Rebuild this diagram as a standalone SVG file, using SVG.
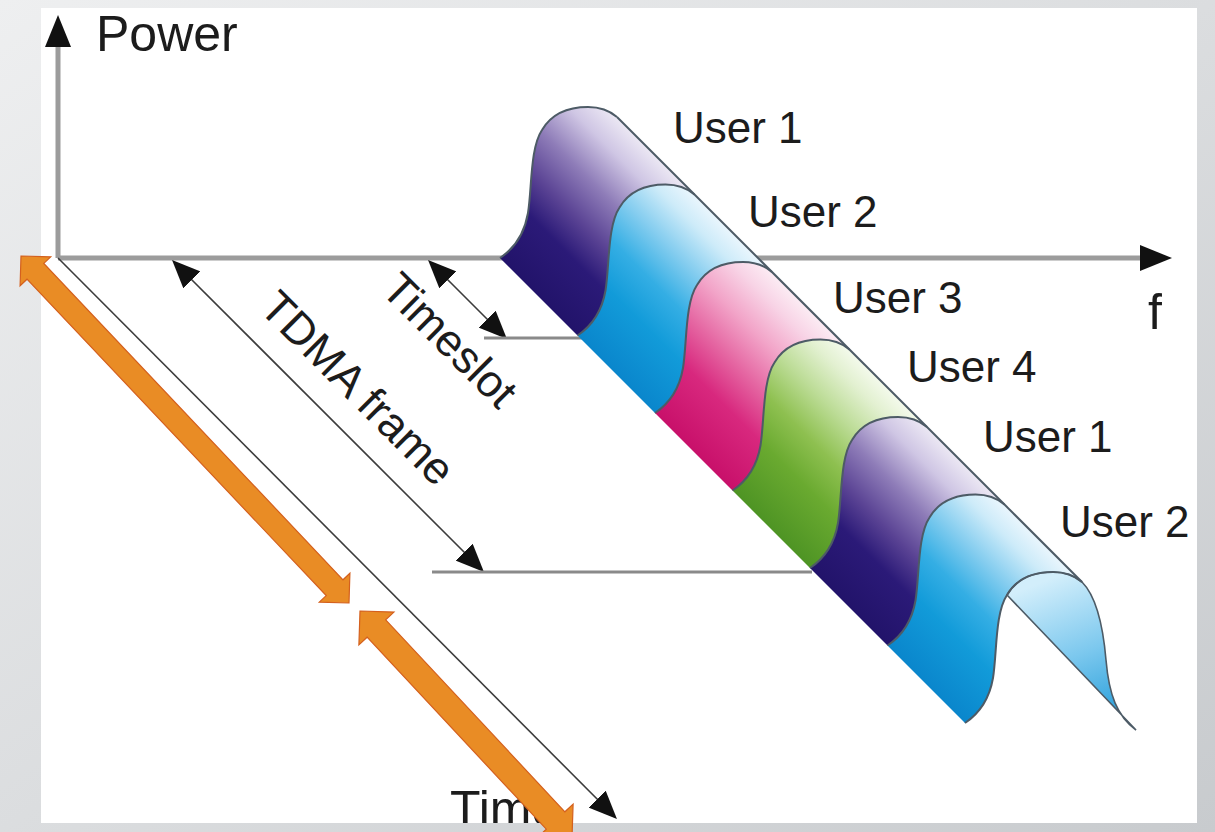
<svg xmlns="http://www.w3.org/2000/svg" width="1215" height="832" viewBox="0 0 1215 832">
<style>
  .lbl{font-family:"Liberation Sans",Arial,sans-serif;fill:#1c1c1c}
  .axis{stroke:#9c9c9c;stroke-width:5;fill:none}
  .thin{stroke:#3c3c3c;stroke-width:1.6;fill:none}
  .ref{stroke:#8a8a8a;stroke-width:3;fill:none}
  .edge{fill:none;stroke:#4d5b66;stroke-width:2}
  .orange{fill:#e98c25;stroke:#d4601e;stroke-width:1.2}
</style>
<defs>
  <linearGradient id="bg" x1="0" y1="0" x2="1" y2="1">
    <stop offset="0" stop-color="#eeeff0"/>
    <stop offset="1" stop-color="#c8cbce"/>
  </linearGradient>
  <linearGradient id="gPurple" gradientUnits="userSpaceOnUse" x1="500" y1="258" x2="629" y2="129">
    <stop offset="0" stop-color="#22136a"/>
    <stop offset="0.28" stop-color="#2b1a78"/>
    <stop offset="0.45" stop-color="#5a4394"/>
    <stop offset="0.65" stop-color="#8e7cb8"/>
    <stop offset="0.85" stop-color="#cfc6e4"/>
    <stop offset="1" stop-color="#ece8f4"/>
  </linearGradient>
  <linearGradient id="gBlue" gradientUnits="userSpaceOnUse" x1="500" y1="258" x2="629" y2="129">
    <stop offset="0" stop-color="#0a86cc"/>
    <stop offset="0.3" stop-color="#129bd9"/>
    <stop offset="0.5" stop-color="#34aee4"/>
    <stop offset="0.7" stop-color="#85cdef"/>
    <stop offset="0.88" stop-color="#cdebf9"/>
    <stop offset="1" stop-color="#eaf6fd"/>
  </linearGradient>
  <linearGradient id="gPink" gradientUnits="userSpaceOnUse" x1="500" y1="258" x2="629" y2="129">
    <stop offset="0" stop-color="#c8106a"/>
    <stop offset="0.3" stop-color="#d8287e"/>
    <stop offset="0.5" stop-color="#e566a2"/>
    <stop offset="0.7" stop-color="#f2a4c8"/>
    <stop offset="0.88" stop-color="#f8d4e6"/>
    <stop offset="1" stop-color="#fcecf4"/>
  </linearGradient>
  <linearGradient id="gGreen" gradientUnits="userSpaceOnUse" x1="500" y1="258" x2="629" y2="129">
    <stop offset="0" stop-color="#4e9424"/>
    <stop offset="0.3" stop-color="#6aaa30"/>
    <stop offset="0.5" stop-color="#8ec050"/>
    <stop offset="0.7" stop-color="#bcdc96"/>
    <stop offset="0.88" stop-color="#e2f0d0"/>
    <stop offset="1" stop-color="#f4faec"/>
  </linearGradient>
  <linearGradient id="gSliver" gradientUnits="userSpaceOnUse" x1="1060" y1="575" x2="1120" y2="725">
    <stop offset="0" stop-color="#d2eefb"/>
    <stop offset="0.5" stop-color="#7cc8ee"/>
    <stop offset="1" stop-color="#1f9ad8"/>
  </linearGradient>
  <path id="slab" d="M500,258 C512,250 524,236 528,213 C532,188 530,148 542,130 C552,113 570,107 588,107 C600,107 610,111 617,117 L694.5,194.5 C687.5,188.5 677.5,184.5 665.5,184.5 C647.5,184.5 629.5,190.5 619.5,207.5 C607.5,225.5 609.5,265.5 605.5,290.5 C601.5,313.5 589.5,327.5 577.5,335.5 Z"/>
  <path id="profile" d="M500,258 C512,250 524,236 528,213 C532,188 530,148 542,130 C552,113 570,107 588,107 C600,107 610,111 617,117"/>
  <marker id="axisHead" markerUnits="userSpaceOnUse" markerWidth="32" markerHeight="26" viewBox="0 0 32 26" refX="12" refY="13" orient="auto">
    <path d="M0,0 L32,13 L0,26 Z" fill="#111"/>
  </marker>
  <marker id="head" markerUnits="userSpaceOnUse" markerWidth="28" markerHeight="24" viewBox="0 0 28 24" refX="20" refY="12" orient="auto-start-reverse">
    <path d="M0,0 L28,12 L0,24 Z" fill="#111"/>
  </marker>
  <clipPath id="page"><rect x="41" y="8" width="1156" height="815"/></clipPath>
</defs>

<rect id="background" x="0" y="0" width="1215" height="832" fill="url(#bg)"/>
<rect id="page-area" x="41" y="8" width="1156" height="815" fill="#ffffff"/>

<g id="connectors">
  <line id="power-axis" class="axis" x1="58" y1="258" x2="58" y2="35" marker-end="url(#axisHead)"/>
  <line id="f-axis" class="axis" x1="58" y1="258" x2="1152" y2="258" marker-end="url(#axisHead)"/>
  <line id="time-axis" class="thin" x1="58" y1="258" x2="611.3" y2="813.3" marker-end="url(#head)"/>
  <line id="tdma-arrow" class="thin" x1="177.7" y1="265.7" x2="478.3" y2="566.3" marker-start="url(#head)" marker-end="url(#head)"/>
  <line id="timeslot-arrow" class="thin" x1="433.7" y1="265.7" x2="501.3" y2="333.3" marker-start="url(#head)" marker-end="url(#head)"/>
  <line id="timeslot-ref" class="ref" x1="484" y1="338" x2="582" y2="338"/>
  <line id="tdma-ref" class="ref" x1="432" y1="572" x2="812" y2="572"/>
</g>

<g id="signal">
  <g id="slot-user1a"><use href="#slab" fill="url(#gPurple)"/></g>
  <g id="slot-user2a"><use href="#slab" transform="translate(77.5,77.5)" fill="url(#gBlue)"/></g>
  <g id="slot-user3"><use href="#slab" transform="translate(155,155)" fill="url(#gPink)"/></g>
  <g id="slot-user4"><use href="#slab" transform="translate(232.5,232.5)" fill="url(#gGreen)"/></g>
  <g id="slot-user1b"><use href="#slab" transform="translate(310,310)" fill="url(#gPurple)"/></g>
  <g id="slot-user2b"><use href="#slab" transform="translate(387.5,387.5)" fill="url(#gBlue)"/></g>
  <g id="slot-end">
    <path d="M1007,595 C1017,578 1035,572 1053,572 C1065,572 1075,576 1082,582 C1096,596 1103,625 1106,660 C1109,695 1117,716 1136,730 L1007,595 Z" fill="url(#gSliver)" stroke="#4d5b66" stroke-width="1.6"/>
  </g>
  <g id="outlines">
    <use href="#profile" class="edge"/>
    <use href="#profile" class="edge" transform="translate(77.5,77.5)"/>
    <use href="#profile" class="edge" transform="translate(155,155)"/>
    <use href="#profile" class="edge" transform="translate(232.5,232.5)"/>
    <use href="#profile" class="edge" transform="translate(310,310)"/>
    <use href="#profile" class="edge" transform="translate(387.5,387.5)"/>
    <use href="#profile" class="edge" transform="translate(465,465)" stroke-width="1.4"/>
    <line class="edge" x1="617" y1="117" x2="1082" y2="582"/>
  </g>
</g>

<g id="labels">
  <g id="label-power"><text class="lbl" x="96" y="51" font-size="50">Power</text></g>
  <g id="label-f"><text class="lbl" x="1148" y="329" font-size="50">f</text></g>
  <g id="label-time" clip-path="url(#page)"><text class="lbl" x="450" y="826" font-size="50">Time</text></g>
  <g id="label-tdma"><text class="lbl" font-size="45" text-anchor="middle" transform="translate(347,399) rotate(45)">TDMA frame</text></g>
  <g id="label-timeslot"><text class="lbl" font-size="45" text-anchor="middle" transform="translate(439,351) rotate(45)">Timeslot</text></g>
  <g id="label-user1a"><text class="lbl" x="673" y="143" font-size="44">User 1</text></g>
  <g id="label-user2a"><text class="lbl" x="748" y="227" font-size="44">User 2</text></g>
  <g id="label-user3"><text class="lbl" x="833" y="313" font-size="44">User 3</text></g>
  <g id="label-user4"><text class="lbl" x="907" y="382" font-size="44">User 4</text></g>
  <g id="label-user1b"><text class="lbl" x="983" y="452" font-size="44">User 1</text></g>
  <g id="label-user2b"><text class="lbl" x="1060" y="537" font-size="44">User 2</text></g>
</g>

<g id="orange-arrows">
  <polygon id="orange-arrow-1" class="orange" points="21,256 50.7,256.9 43.8,263.4 343,579.8 349.9,573.3 349,603 319.3,602.1 326.2,595.6 27,279.2 20.1,285.7"/>
  <polygon id="orange-arrow-2" class="orange" points="360,611 393.9,612.1 385.7,619.8 564.9,811.8 573.1,804.1 572,838 538.1,836.9 546.3,829.2 367.1,637.2 358.9,644.9"/>
</g>
</svg>
